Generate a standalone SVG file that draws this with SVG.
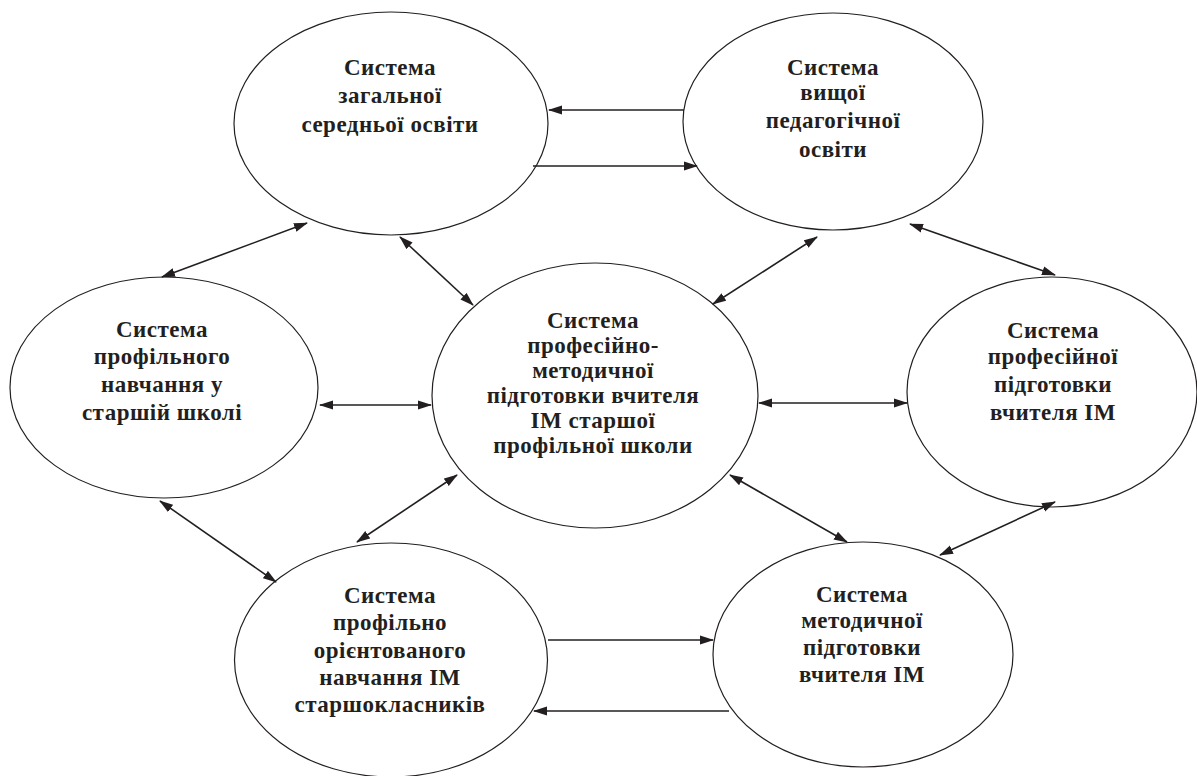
<svg xmlns="http://www.w3.org/2000/svg" width="1197" height="776" viewBox="0 0 1197 776">
<defs>
<marker id="ah" markerUnits="userSpaceOnUse" markerWidth="14" markerHeight="10" refX="13" refY="4.5" orient="auto-start-reverse" viewBox="0 0 14 9">
<path d="M0,0 L14,4.5 L0,9 z" fill="#231f20"/>
</marker>
<style>
.n{fill:#fff;stroke:#231f20;stroke-width:1.2}
.t{font-family:"Liberation Serif","Times New Roman",serif;font-weight:bold;font-size:23px;letter-spacing:0.5px;fill:#231f20;text-anchor:middle}
.c line{stroke:#231f20;stroke-width:1.6}
.one{marker-end:url(#ah)}
.two{marker-start:url(#ah);marker-end:url(#ah)}
</style>
</defs>
<rect width="1197" height="776" fill="#fff"/>
<g id="n1"><ellipse class="n" cx="391" cy="123.5" rx="157" ry="111.5"/>
<text class="t"><tspan x="390" y="75">Система</tspan><tspan x="390" y="103">загальної</tspan><tspan x="390" y="132">середньої освіти</tspan></text></g>
<g id="n2"><ellipse class="n" cx="833" cy="121.5" rx="150" ry="108.5"/>
<text class="t"><tspan x="833" y="75">Система</tspan><tspan x="833" y="100">вищої</tspan><tspan x="833" y="128">педагогічної</tspan><tspan x="833" y="157">освіти</tspan></text></g>
<g id="n3"><ellipse class="n" cx="164" cy="387.5" rx="154" ry="110.5"/>
<text class="t"><tspan x="162" y="337">Система</tspan><tspan x="162" y="364">профільного</tspan><tspan x="162" y="392">навчання у</tspan><tspan x="162" y="420">старшій школі</tspan></text></g>
<g id="n4"><ellipse class="n" cx="595" cy="395.5" rx="163" ry="132.5"/>
<text class="t"><tspan x="593" y="328">Система</tspan><tspan x="593" y="353">професійно-</tspan><tspan x="593" y="378">методичної</tspan><tspan x="593" y="403">підготовки вчителя</tspan><tspan x="593" y="428">ІМ старшої</tspan><tspan x="593" y="453">профільної школи</tspan></text></g>
<g id="n5"><ellipse class="n" cx="1052" cy="392" rx="145" ry="115"/>
<text class="t"><tspan x="1053" y="338">Система</tspan><tspan x="1053" y="364">професійної</tspan><tspan x="1053" y="392">підготовки</tspan><tspan x="1053" y="420">вчителя ІМ</tspan></text></g>
<g id="n6"><ellipse class="n" cx="391" cy="660" rx="156.5" ry="117"/>
<text class="t"><tspan x="390" y="603">Система</tspan><tspan x="390" y="630">профільно</tspan><tspan x="390" y="658">орієнтованого</tspan><tspan x="390" y="685">навчання ІМ</tspan><tspan x="390" y="712">старшокласників</tspan></text></g>
<g id="n7"><ellipse class="n" cx="863" cy="654.5" rx="150" ry="112.5"/>
<text class="t"><tspan x="862" y="602">Система</tspan><tspan x="862" y="628">методичної</tspan><tspan x="862" y="655">підготовки</tspan><tspan x="862" y="682">вчителя ІМ</tspan></text></g>
<g id="connectors" class="c">
<line class="one" x1="684" y1="110" x2="549" y2="110"/>
<line class="one" x1="533" y1="166" x2="697" y2="166"/>
<line class="one" x1="548" y1="640" x2="713" y2="640"/>
<line class="one" x1="729" y1="711" x2="534" y2="711"/>
<line class="two" x1="307" y1="223" x2="162" y2="277"/>
<line class="two" x1="400" y1="237" x2="473" y2="305"/>
<line class="two" x1="817" y1="237" x2="713" y2="304"/>
<line class="two" x1="910" y1="224" x2="1055" y2="275"/>
<line class="two" x1="320" y1="405" x2="431" y2="405"/>
<line class="two" x1="759" y1="403" x2="907" y2="403"/>
<line class="two" x1="160" y1="501" x2="276" y2="582"/>
<line class="two" x1="457" y1="475" x2="357" y2="542"/>
<line class="two" x1="730" y1="475" x2="847" y2="542"/>
<line class="two" x1="1055" y1="502" x2="940" y2="555"/>
</g>
</svg>
